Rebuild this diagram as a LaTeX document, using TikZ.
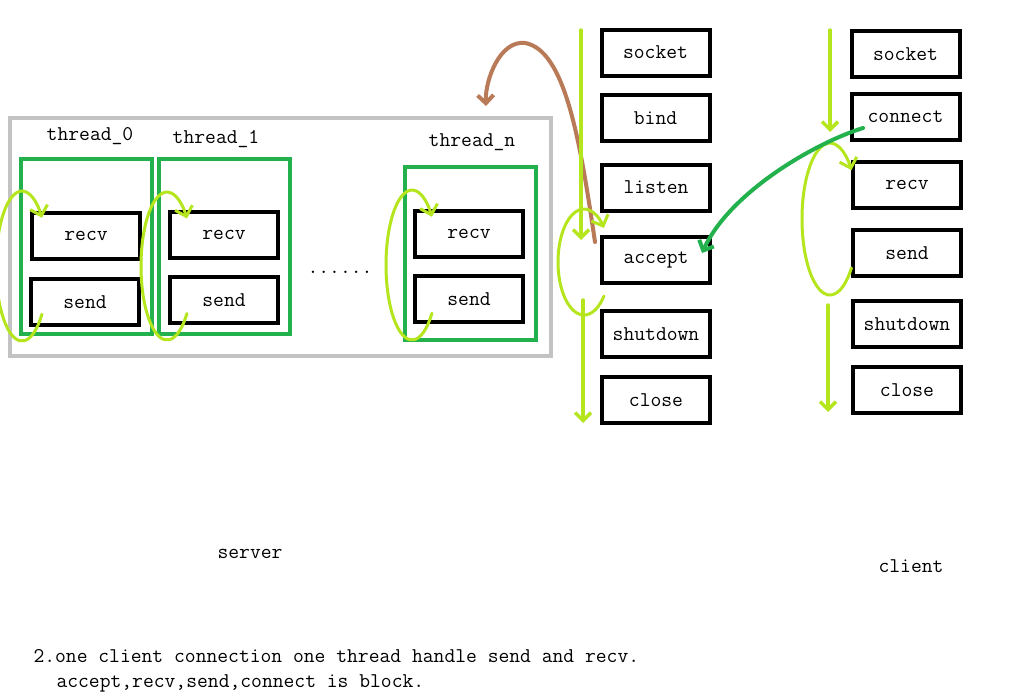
\documentclass[tikz,border=0pt]{standalone}
\usepackage{fontspec}
\usetikzlibrary{arrows.meta,calc}
\definecolor{lime}{RGB}{181,230,29}
\definecolor{pgreen}{RGB}{34,177,76}
\definecolor{pbrown}{RGB}{185,122,87}
\definecolor{pgray}{RGB}{195,195,195}
\tikzset{
  fn/.style={font=\ttfamily\fontsize{21}{23}\selectfont},
  call/.style={fn,draw=black,line width=4pt,minimum width=108pt,minimum height=46pt,inner sep=0pt},
  thr/.style={draw=pgreen,line width=4pt,minimum width=131pt,minimum height=175pt},
  cyc/.style={draw=lime,line width=3pt,line cap=round,-{Straight Barb[length=9pt,width=18pt]}},
  flow/.style={draw=lime,line width=3.5pt,line cap=round,-{Straight Barb[length=8pt,width=16pt]}}
}
\begin{document}
\begin{tikzpicture}[x=1pt,y=-1pt]
\fill[white] (0,0) rectangle (1013,699);
\useasboundingbox (0,0) rectangle (1013,699);

%SERVER THREADS
\node[draw=pgray,line width=4pt,minimum width=541pt,minimum height=238pt] (threads) at (280.5,237) {};
\node[thr] (t0) at (86,246.5) {};
\node[fn] (t0lbl) at (90,136) {thread\_0};
\node[call] (t0recv) at (86,236) {recv};
\node[call] (t0send) at (85,302) {send};
\coordinate (c0) at (22,266);
\draw[cyc] ($(c0)+(40:26 and 75)$) arc[start angle=40,end angle=320,x radius=26,y radius=75];

\node[thr] (t1) at (224.5,246.5) {};
\node[fn] (t1lbl) at (216,139) {thread\_1};
\node[call] (t1recv) at (224,235) {recv};
\node[call] (t1send) at (224,300) {send};
\coordinate (c1) at (167,266);
\draw[cyc] ($(c1)+(40:26 and 74)$) arc[start angle=40,end angle=320,x radius=26,y radius=74];

\node[fn] (dots) at (340,272) {......};

\node[thr,minimum height=173pt] (tn) at (470.5,253.5) {};
\node[fn] (tnlbl) at (472,142) {thread\_n};
\node[call] (tnrecv) at (469,233.5) {recv};
\node[call] (tnsend) at (469,299) {send};
\coordinate (cn) at (412,265);
\draw[cyc] ($(cn)+(40:26 and 75)$) arc[start angle=40,end angle=320,x radius=26,y radius=75];

%SERVER
\node[call] (ssocket) at (655.5,52.5) {socket};
\node[call] (sbind) at (655.5,118) {bind};
\node[call] (slisten) at (656,187.5) {listen};
\node[call] (saccept) at (656,260) {accept};
\node[call] (sshutdown) at (656,334) {shutdown};
\node[call] (sclose) at (656,400) {close};

\draw[flow,draw=pbrown,line width=4pt] ([xshift=-5pt,yshift=18pt]saccept.west)
  .. controls (580,140) and (565,50) .. (525,43)
  .. controls (500,40) and (485,80) .. ([xshift=-67pt,yshift=10pt]threads.north east);

\coordinate (sv0) at (581,30);
\coordinate (sv1) at (581,240);
\coordinate (sv2) at (583,300);
\coordinate (sv3) at (583,423);
\draw[flow] (sv0) -- (sv1);
\draw[flow] (sv2) -- (sv3);
\coordinate (cs) at (584,262);
\draw[cyc] ($(cs)+(40:26 and 53)$) arc[start angle=40,end angle=320,x radius=26,y radius=53];

%CLIENT
\node[call] (csocket) at (905.5,54) {socket};
\node[call] (cconnect) at (905.5,117) {connect};
\node[call] (crecv) at (907,184.5) {recv};
\node[call] (csend) at (907,253) {send};
\node[call] (cshutdown) at (907,324) {shutdown};
\node[call] (cclose) at (907,390) {close};

\coordinate (cv0) at (830,30);
\coordinate (cv1) at (830,132);
\coordinate (cv2) at (828,305);
\coordinate (cv3) at (828,412);
\draw[flow] (cv0) -- (cv1);
\draw[flow] (cv2) -- (cv3);
\coordinate (cc) at (830,219);
\draw[cyc] ($(cc)+(40:28 and 76)$) arc[start angle=40,end angle=320,x radius=28,y radius=76];

\draw[flow,draw=pgreen,line width=4pt] ([xshift=13.5pt,yshift=-11pt]cconnect.west)
  .. controls (815,143) and (730,192) .. ([xshift=-10pt,yshift=7pt]saccept.east);

%LABELS
\node[fn] (server) at (250,554) {server};
\node[fn] (client) at (911,566) {client};
\node[fn,anchor=west] (note1) at (30,656) {2.one client connection one thread handle send and recv.};
\node[fn,anchor=west] (note2) at (53,683) {accept,recv,send,connect is block.};
\end{tikzpicture}
\end{document}
